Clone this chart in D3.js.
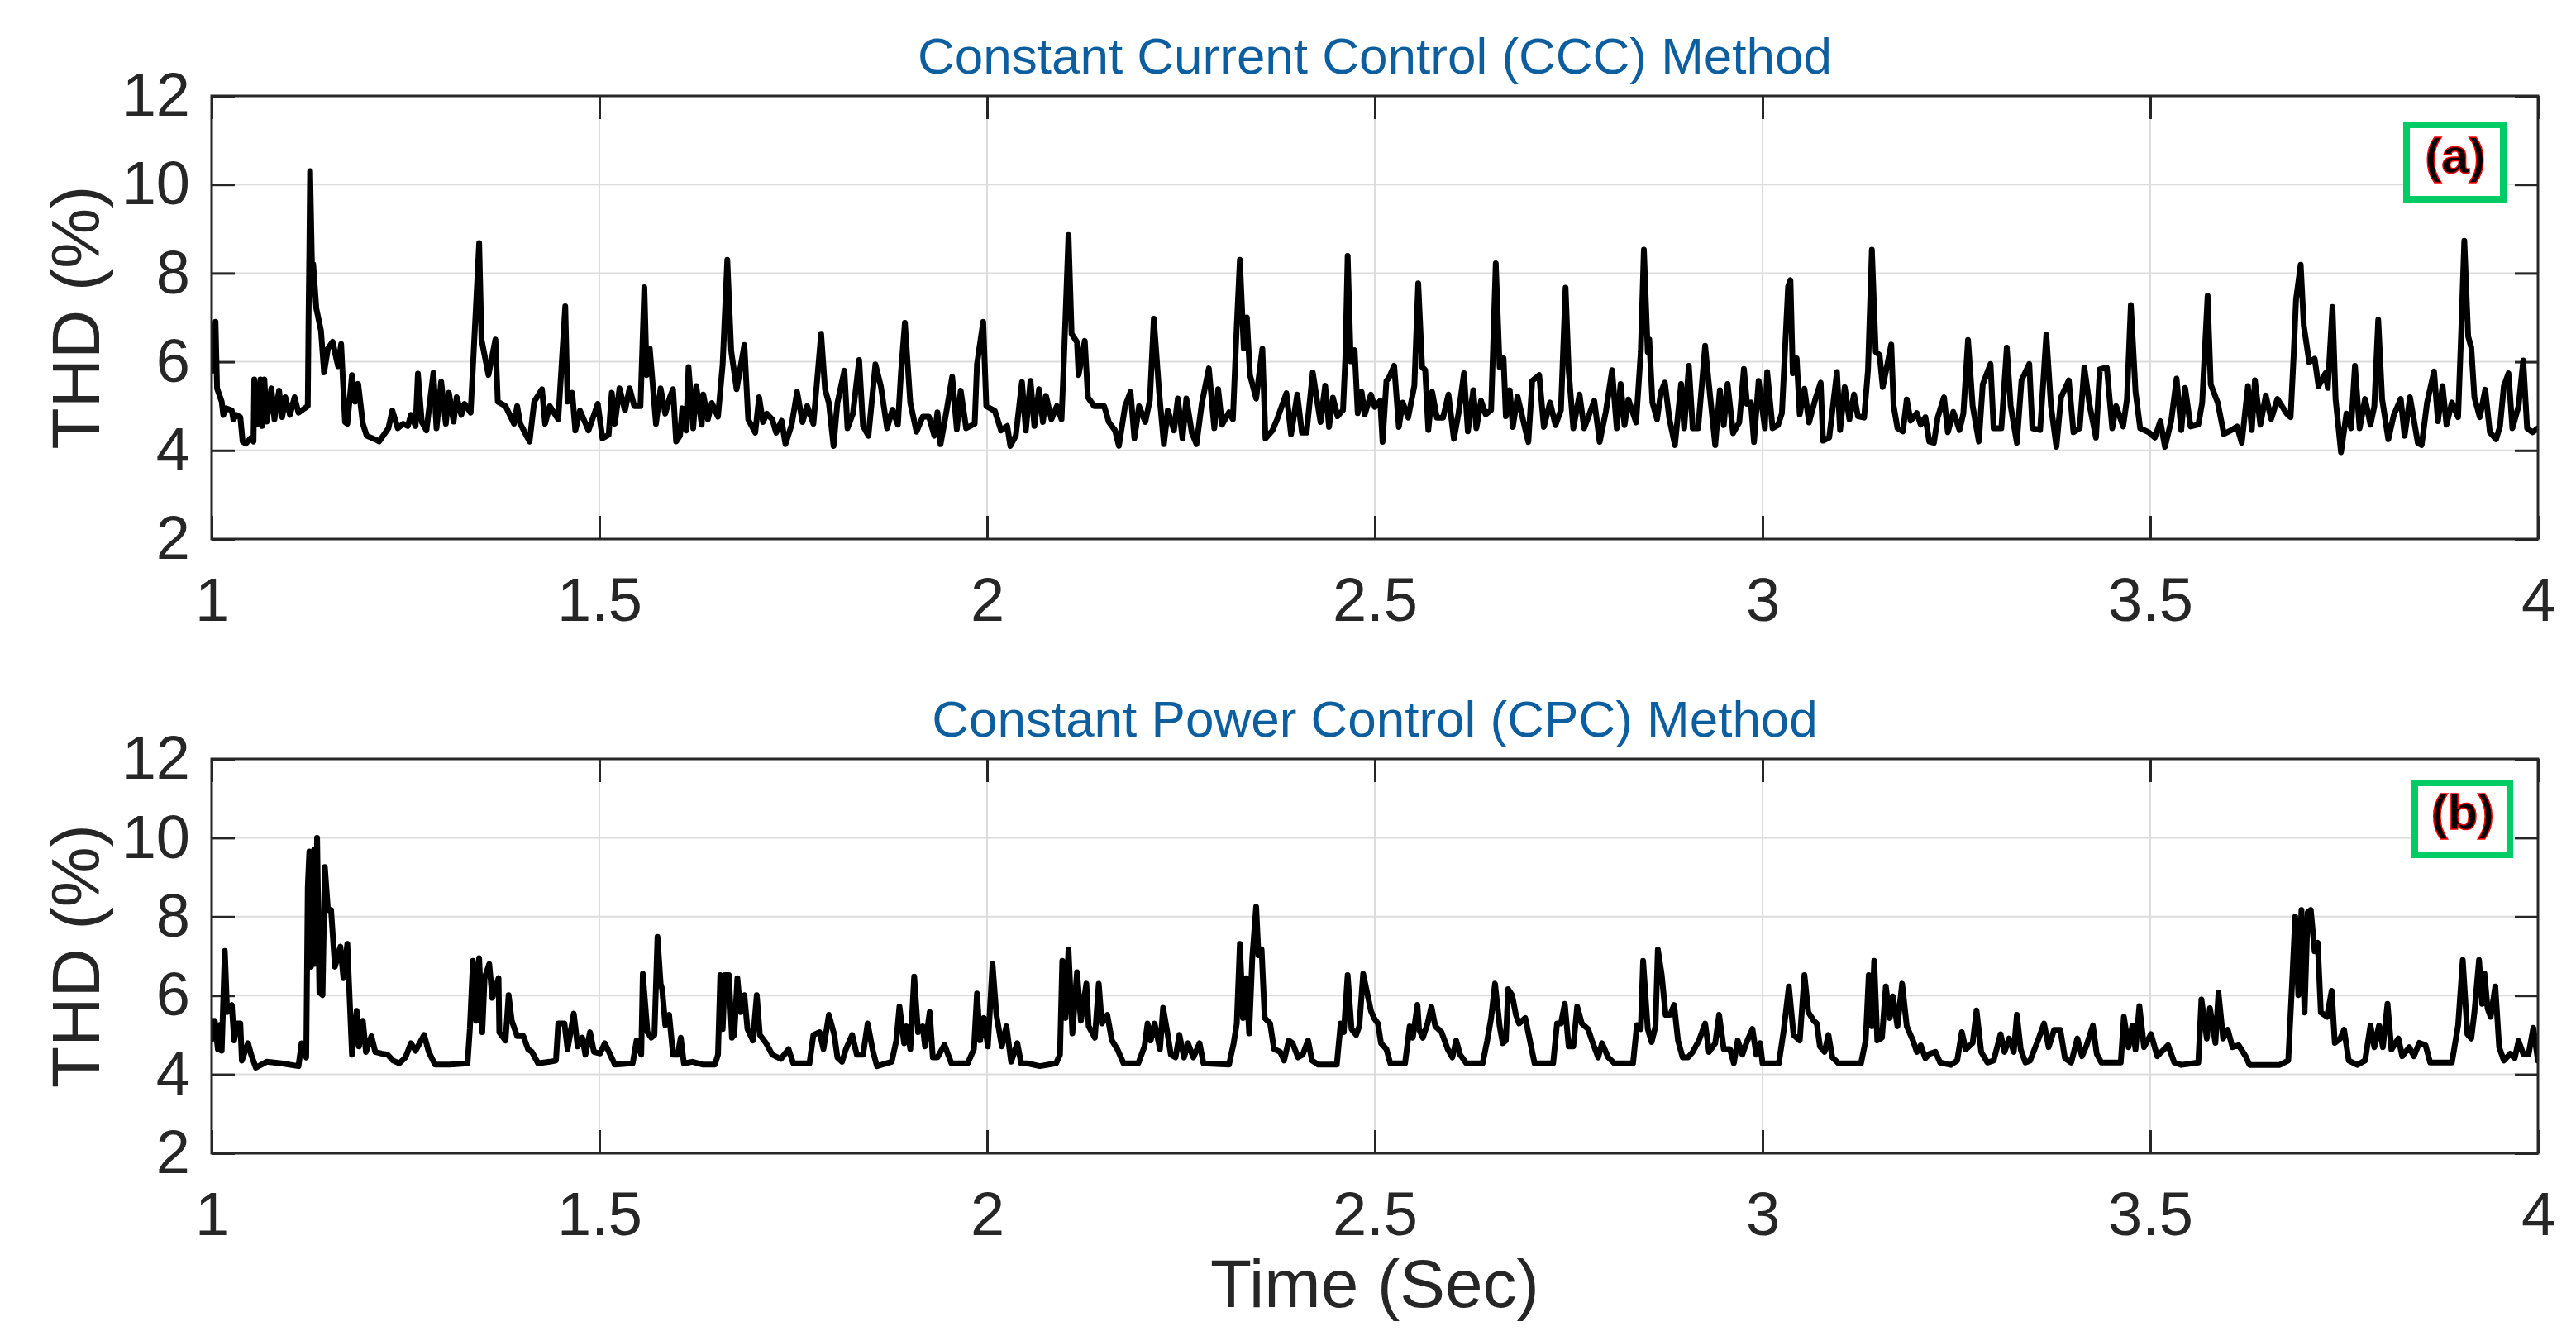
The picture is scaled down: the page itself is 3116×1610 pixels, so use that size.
<!DOCTYPE html>
<html>
<head>
<meta charset="utf-8">
<script src="https://cdn.jsdelivr.net/npm/d3@7"></script>
<style>
    body { margin: 0; background: #ffffff; }
    text { font-family: "Liberation Sans", Arial, Helvetica, sans-serif; }
</style>
</head>
<body>
<div id="divChart"></div>
<script>
// tick values and texts
var timeTicks = [1, 1.5, 2, 2.5, 3, 3.5, 4];
var thdTicks = [2, 4, 6, 8, 10, 12];
var panelTitles = ["Constant Current Control (CCC) Method", "Constant Power Control (CPC) Method"];
var panelTags = ["(a)", "(b)"];
var xLabel = "Time (Sec)";
var yLabel = "THD (%)";

// [time (s), THD (%)] - CCC method
var cccData = [
    [1.000,6.2],[1.002,5.8],[1.005,6.9],[1.007,5.4],[1.013,5.1],[1.015,4.8],[1.019,4.95],[1.026,4.9],
    [1.028,4.7],[1.032,4.8],[1.037,4.75],[1.040,4.2],[1.044,4.15],[1.050,4.27],[1.054,4.2],[1.055,5.6],
    [1.059,4.6],[1.063,5.6],[1.065,4.55],[1.068,5.6],[1.071,4.65],[1.077,5.4],[1.081,4.7],[1.087,5.35],
    [1.091,4.75],[1.095,5.2],[1.101,4.8],[1.107,5.2],[1.112,4.85],[1.120,4.95],[1.124,5.0],[1.125,7.0],
    [1.126,8.5],[1.127,10.3],[1.129,8.5],[1.130,7.7],[1.131,8.2],[1.135,7.2],[1.141,6.7],[1.145,5.76],
    [1.150,6.3],[1.156,6.45],[1.163,5.9],[1.167,6.4],[1.172,4.64],[1.175,4.6],[1.181,5.7],[1.185,5.1],
    [1.189,5.5],[1.195,4.6],[1.200,4.33],[1.212,4.24],[1.216,4.2],[1.228,4.5],[1.233,4.9],[1.240,4.5],
    [1.247,4.6],[1.253,4.55],[1.257,4.8],[1.263,4.55],[1.266,5.73],[1.271,4.64],[1.277,4.45],[1.286,5.75],
    [1.290,4.5],[1.296,5.55],[1.302,4.6],[1.306,5.3],[1.312,4.65],[1.316,5.2],[1.322,4.8],[1.326,5.05],
    [1.334,4.85],[1.338,6.25],[1.345,8.68],[1.348,6.5],[1.357,5.7],[1.366,6.5],[1.369,5.1],[1.379,5.0],
    [1.390,4.6],[1.394,5.0],[1.398,4.6],[1.410,4.2],[1.416,5.1],[1.426,5.38],[1.430,4.6],[1.436,5.0],
    [1.447,4.7],[1.456,7.25],[1.459,5.1],[1.465,5.3],[1.469,4.45],[1.475,4.9],[1.486,4.45],[1.498,5.05],
    [1.504,4.27],[1.512,4.35],[1.516,5.3],[1.520,4.6],[1.526,5.4],[1.533,4.9],[1.539,5.4],[1.545,5.0],
    [1.553,5.0],[1.558,7.68],[1.561,5.7],[1.565,6.3],[1.573,4.6],[1.579,5.4],
    [1.585,4.83],[1.591,5.2],[1.595,5.38],[1.599,4.2],[1.604,4.33],[1.607,4.95],[1.612,4.45],[1.615,5.88],
    [1.621,4.5],[1.625,5.45],[1.632,4.58],[1.634,5.26],[1.640,4.7],[1.645,5.07],[1.653,4.76],[1.659,5.94],
    [1.665,8.3],[1.670,6.25],[1.677,5.38],[1.687,6.38],[1.692,4.7],[1.701,4.4],[1.706,5.2],[1.711,4.64],
    [1.716,4.83],[1.723,4.7],[1.728,4.4],[1.735,4.67],[1.740,4.14],[1.748,4.58],[1.755,5.32],[1.762,4.64],
    [1.768,5.0],[1.776,4.6],[1.786,6.63],[1.791,5.38],[1.796,5.07],[1.802,4.1],[1.807,5.07],[1.816,5.8],
    [1.820,4.5],[1.827,4.83],[1.835,6.04],[1.840,4.55],[1.847,4.33],[1.856,5.94],[1.863,5.45],[1.871,4.5],
    [1.878,4.92],[1.885,4.58],[1.889,5.76],[1.894,6.88],[1.901,5.07],[1.909,4.42],[1.917,4.76],[1.925,4.76],
    [1.932,4.33],[1.936,4.86],[1.940,4.14],[1.948,4.92],[1.955,5.66],[1.961,4.48],[1.966,5.35],[1.973,4.5],
    [1.984,4.6],[1.987,5.94],[1.995,6.9],[1.999,5.0],[2.010,4.89],[2.018,4.45],[2.026,4.55],[2.030,4.1],
    [2.037,4.33],[2.045,5.54],[2.050,4.45],[2.056,5.57],[2.061,4.55],[2.067,5.38],[2.072,4.64],[2.076,5.23],
    [2.083,4.7],[2.090,5.0],[2.096,4.7],[2.099,6.0],[2.105,8.86],[2.109,6.63],[2.116,6.44],[2.118,5.7],
    [2.126,6.47],[2.130,5.2],[2.138,5.0],[2.151,5.0],[2.157,4.64],[2.165,4.45],[2.170,4.1],[2.178,5.0],
    [2.185,5.32],[2.190,4.27],[2.196,5.0],[2.204,4.64],[2.210,5.14],[2.215,6.97],[2.222,5.29],[2.228,4.14],
    [2.233,4.9],[2.241,4.45],[2.246,5.17],[2.252,4.27],[2.257,5.17],[2.264,4.4],[2.270,4.14],[2.277,5.07],
    [2.286,5.85],[2.293,4.5],[2.298,5.38],[2.303,4.58],[2.312,4.86],[2.317,4.7],[2.322,6.81],[2.326,8.3],
    [2.331,6.3],[2.335,7.0],[2.339,5.7],[2.347,5.17],[2.355,6.29],[2.359,4.27],[2.368,4.45],[2.374,4.7],
    [2.386,5.29],[2.392,4.36],[2.400,5.26],[2.406,4.4],[2.412,4.4],[2.420,5.76],[2.426,5.07],[2.430,4.64],
    [2.436,5.46],[2.441,4.53],[2.446,5.19],[2.452,4.77],[2.459,4.91],[2.462,6.08],[2.465,8.39],[2.469,6.01],
    [2.474,6.26],[2.478,4.84],[2.483,5.32],[2.487,4.81],[2.495,5.26],[2.500,4.98],[2.507,5.12],[2.510,4.19],
    [2.515,5.57],[2.518,5.63],[2.525,5.91],[2.531,4.53],[2.536,5.08],[2.543,4.74],[2.551,5.46],[2.556,7.77],
    [2.561,5.88],[2.565,5.81],[2.569,4.46],[2.574,5.32],[2.580,4.74],[2.588,4.74],[2.595,5.26],[2.602,4.26],
    [2.608,4.84],[2.615,5.74],[2.620,4.43],[2.627,5.36],[2.631,4.5],[2.637,5.12],[2.643,4.81],[2.650,4.91],
    [2.656,8.22],[2.661,5.88],[2.666,6.08],[2.669,4.77],[2.674,5.36],[2.678,4.53],[2.684,5.22],[2.691,4.7],
    [2.698,4.19],[2.703,5.57],[2.712,5.7],[2.718,4.53],[2.726,5.08],[2.733,4.57],[2.740,4.91],[2.746,7.67],
    [2.750,5.81],[2.756,4.5],[2.764,5.26],[2.770,4.5],[2.783,5.12],[2.790,4.19],[2.798,4.88],[2.806,5.81],
    [2.812,4.5],[2.817,5.5],[2.822,4.57],[2.827,5.15],[2.837,4.63],[2.843,6.22],[2.847,8.53],[2.852,6.22],
    [2.854,6.5],[2.858,5.08],[2.864,4.7],[2.869,5.32],[2.874,5.53],[2.880,4.7],[2.887,4.12],[2.895,5.5],
    [2.899,4.5],[2.905,5.91],[2.910,4.5],[2.917,4.5],[2.926,6.36],[2.930,5.63],[2.939,4.12],[2.945,5.36],
    [2.950,4.57],[2.955,5.5],[2.962,4.39],[2.970,4.63],[2.976,5.84],[2.980,5.05],[2.985,5.08],[2.989,4.19],
    [2.995,5.57],[3.003,4.5],[3.006,5.77],[3.013,4.5],[3.020,4.57],[3.025,4.84],[3.033,7.7],[3.036,7.84],
    [3.039,5.74],[3.044,6.08],[3.048,4.81],[3.054,5.39],[3.060,4.63],[3.068,5.15],[3.075,5.53],[3.078,4.22],
    [3.086,4.29],[3.096,5.77],[3.100,4.46],[3.106,5.43],[3.112,4.7],[3.118,5.26],[3.123,4.77],[3.131,4.74],
    [3.136,5.81],[3.141,8.53],[3.146,6.22],[3.151,6.15],[3.155,5.43],[3.161,5.94],[3.166,6.39],[3.169,5.01],
    [3.174,4.5],[3.181,4.43],[3.186,5.15],[3.191,4.67],[3.199,4.84],
    [3.204,4.58],[3.210,4.75],[3.215,4.2],[3.221,4.17],[3.226,4.75],[3.234,5.2],[3.239,4.41],[3.246,4.87],
    [3.254,4.46],[3.259,4.83],[3.265,6.49],[3.271,5.0],[3.279,4.2],[3.284,5.49],[3.294,5.95],[3.298,4.5],
    [3.308,4.5],[3.315,6.32],[3.320,5.0],[3.328,4.17],[3.334,5.58],[3.344,5.95],[3.348,4.5],[3.358,4.46],
    [3.366,6.61],[3.372,5.0],[3.379,4.08],[3.385,5.2],[3.395,5.58],[3.401,4.41],[3.409,4.5],[3.415,5.87],
    [3.422,5.0],[3.430,4.29],[3.435,5.83],[3.444,5.87],[3.451,4.5],[3.456,5.0],[3.465,4.54],[3.470,5.16],
    [3.475,7.28],[3.481,5.33],[3.487,4.5],[3.498,4.41],[3.506,4.29],[3.513,4.66],[3.519,4.08],[3.527,4.66],
    [3.534,5.62],[3.540,4.46],[3.545,5.41],[3.552,4.54],[3.562,4.58],[3.567,5.08],[3.574,7.49],[3.578,5.49],
    [3.587,5.08],[3.595,4.37],[3.605,4.46],[3.612,4.54],[3.618,4.17],[3.626,5.45],[3.631,4.46],[3.635,5.58],
    [3.642,4.58],[3.649,5.24],[3.656,4.71],[3.664,5.16],[3.676,4.83],[3.681,4.75],[3.685,6.16],[3.688,7.4],
    [3.694,8.19],[3.698,6.82],[3.705,5.99],[3.712,6.07],[3.717,5.45],[3.726,5.74],[3.729,5.41],[3.735,7.24],
    [3.739,5.16],[3.746,3.96],[3.753,4.83],[3.759,4.5],[3.764,5.91],[3.770,4.5],[3.777,5.16],[3.784,4.58],
    [3.789,5.0],[3.794,6.95],[3.799,5.16],[3.807,4.25],[3.814,4.79],[3.823,5.16],[3.828,4.33],[3.835,5.2],
    [3.845,4.17],[3.850,4.12],[3.857,5.08],[3.866,5.78],[3.871,4.66],[3.877,5.45],[3.882,4.58],[3.889,5.08],
    [3.897,4.75],[3.901,6.66],[3.905,8.73],[3.910,6.57],[3.914,6.32],[3.918,5.2],[3.925,4.75],[3.932,5.37],
    [3.938,4.41],[3.946,4.25],[3.951,4.54],[3.956,5.45],[3.962,5.74],[3.967,4.5],[3.975,5.0],[3.981,6.03],
    [3.986,4.5],[3.993,4.41],[4.000,4.5]
];

// [time (s), THD (%)] - CPC method
var cpcData = [
    [1.000,5.36],[1.001,4.9],[1.004,5.36],[1.008,4.64],[1.010,5.25],[1.013,4.6],[1.017,7.13],[1.020,5.58],
    [1.026,5.76],[1.029,4.86],[1.033,5.29],[1.037,5.29],[1.039,4.35],[1.044,4.64],[1.047,4.79],[1.051,4.5],
    [1.057,4.17],[1.071,4.32],[1.090,4.28],[1.112,4.21],[1.116,4.79],[1.122,4.43],[1.124,8.75],[1.126,9.65],
    [1.128,6.73],[1.132,9.69],[1.133,6.8],[1.136,10.0],[1.139,6.08],[1.143,6.01],[1.146,9.26],[1.150,8.17],
    [1.154,8.17],[1.159,6.73],[1.166,7.24],[1.170,6.44],[1.175,7.31],[1.181,4.5],[1.187,5.61],[1.190,4.71],
    [1.195,5.36],[1.199,4.57],[1.206,4.97],[1.211,4.57],[1.219,4.53],[1.227,4.5],[1.234,4.35],[1.242,4.28],
    [1.250,4.43],[1.257,4.79],[1.263,4.6],[1.274,5.0],[1.280,4.57],[1.288,4.25],[1.307,4.25],[1.330,4.28],
    [1.333,5.15],[1.337,6.88],[1.341,5.36],[1.345,6.95],[1.349,5.07],[1.352,6.44],[1.358,6.8],[1.362,5.94],
    [1.370,6.44],[1.371,5.07],[1.379,4.86],[1.383,6.01],[1.387,5.36],[1.394,4.97],[1.402,4.97],[1.408,4.64],
    [1.413,4.57],[1.421,4.28],[1.436,4.32],[1.444,4.35],[1.447,5.29],[1.455,5.29],[1.459,4.64],[1.467,5.54],
    [1.472,4.71],[1.478,4.93],[1.482,4.5],[1.488,5.07],[1.493,4.57],[1.501,4.53],[1.507,4.79],[1.514,4.5],
    [1.520,4.25],[1.543,4.28],[1.548,4.86],[1.554,4.5],[1.556,6.55],[1.562,5.07],[1.567,4.93],[1.571,5.0],
    [1.575,7.49],[1.579,6.3],
    [1.581,6.16],[1.585,5.25],[1.590,5.51],[1.595,4.5],[1.601,4.5],[1.605,4.93],[1.609,4.28],[1.620,4.32],
    [1.633,4.25],[1.649,4.25],[1.653,4.5],[1.656,6.52],[1.659,5.15],[1.662,6.52],[1.667,6.52],[1.671,4.93],
    [1.674,5.0],[1.678,6.44],[1.682,5.58],[1.687,6.01],[1.691,5.15],[1.698,4.86],[1.703,6.01],[1.707,5.0],
    [1.715,4.79],[1.723,4.5],[1.734,4.39],[1.744,4.64],[1.750,4.28],[1.771,4.28],[1.776,5.0],[1.784,5.07],
    [1.789,4.64],[1.796,5.51],[1.803,5.0],[1.807,4.43],[1.813,4.32],[1.818,4.64],[1.826,5.0],[1.832,4.5],
    [1.840,4.5],[1.846,5.29],[1.853,4.57],[1.858,4.21],[1.877,4.32],[1.883,4.86],[1.887,5.72],[1.893,4.79],
    [1.896,5.22],[1.901,4.64],[1.906,6.48],[1.911,5.07],[1.917,5.22],[1.920,4.71],[1.926,5.58],[1.930,4.43],
    [1.936,4.43],[1.945,4.75],[1.954,4.28],[1.975,4.28],[1.983,4.64],[1.987,6.05],[1.991,4.86],[1.996,5.43],
    [2.001,4.71],[2.007,6.8],[2.012,5.51],[2.019,4.71],[2.025,5.22],[2.031,4.32],[2.039,4.79],[2.044,4.28],
    [2.052,4.28],[2.068,4.21],[2.089,4.28],[2.094,4.5],[2.097,6.88],[2.101,5.43],[2.105,7.17],[2.110,5.04],
    [2.116,6.59],[2.121,5.36],[2.128,6.3],[2.131,5.22],[2.139,4.93],[2.144,6.3],[2.148,5.29],[2.155,5.51],
    [2.161,4.86],[2.168,4.64],[2.176,4.28],[2.195,4.28],[2.203,4.71],[2.207,5.29],[2.211,4.86],[2.216,5.29],
    [2.223,4.64],[2.227,5.69],[2.233,5.0],[2.237,4.5],[2.243,4.43],[2.248,5.0],[2.254,4.43],[2.259,4.79],
    [2.266,4.43],[2.274,4.79],[2.279,4.28],[2.312,4.25],[2.318,4.79],[2.322,5.29],[2.326,7.31],[2.330,5.43],
    [2.334,6.44],[2.338,5.04],[2.342,6.95],[2.347,8.25],[2.350,7.02],[2.354,7.17],[2.358,5.43],[2.365,5.29],
    [2.370,4.64],[2.378,4.57],[2.383,4.35],[2.389,4.86],
    [2.394,4.79],[2.401,4.43],[2.407,4.5],[2.414,4.86],[2.419,4.35],[2.427,4.25],[2.451,4.25],[2.456,5.29],
    [2.460,5.07],[2.465,6.52],[2.470,5.15],[2.476,5.0],[2.480,5.22],[2.485,6.55],[2.490,6.08],[2.495,5.61],
    [2.499,5.43],[2.504,5.29],[2.508,4.79],[2.515,4.64],[2.520,4.28],[2.539,4.28],[2.545,5.22],[2.549,4.93],
    [2.555,5.76],[2.557,5.15],[2.562,4.93],[2.568,5.29],[2.573,5.72],[2.578,5.22],[2.586,5.07],[2.594,4.64],
    [2.600,4.43],[2.605,4.86],[2.610,4.5],[2.618,4.28],[2.639,4.28],[2.645,4.86],[2.650,5.43],[2.655,6.3],
    [2.661,5.22],[2.665,4.79],[2.669,4.86],[2.672,6.16],[2.677,6.01],[2.682,5.51],[2.686,5.29],[2.694,5.43],
    [2.700,4.86],[2.706,4.28],[2.730,4.28],[2.735,5.29],[2.740,5.29],[2.745,5.79],[2.750,4.71],[2.756,4.71],
    [2.761,5.72],[2.767,5.29],[2.775,5.15],[2.780,4.86],[2.788,4.43],[2.793,4.79],[2.801,4.43],[2.809,4.28],
    [2.833,4.28],[2.838,5.25],[2.843,5.15],[2.846,6.88],[2.852,5.15],[2.857,4.82],[2.862,5.22],[2.865,7.17],
    [2.870,6.52],[2.875,5.51],[2.881,5.51],[2.886,5.76],[2.891,4.86],[2.897,4.43],[2.904,4.43],[2.910,4.57],
    [2.918,4.86],[2.926,5.29],[2.931,4.57],[2.939,4.79],[2.944,5.51],[2.950,4.64],[2.958,4.64],[2.963,4.28],
    [2.968,4.86],[2.974,4.5],[2.979,4.79],[2.987,5.15],[2.992,4.5],[2.997,4.79],[3.000,4.28],[3.021,4.28],
    [3.027,5.07],[3.034,6.23],[3.040,5.0],[3.048,4.86],[3.054,6.52],[3.059,5.58],[3.066,5.36],[3.070,5.29],
    [3.074,4.71],[3.080,4.57],[3.085,5.0],[3.090,4.43],[3.098,4.28],[3.127,4.28],[3.133,4.86],[3.137,6.52],
    [3.141,5.22],[3.144,6.88],[3.148,4.86],[3.154,4.93],[3.159,6.23],[3.164,5.43],[3.168,5.98],[3.174,5.22],
    [3.180,6.3],[3.186,5.22],[3.194,4.86],[3.199,4.57],
    [3.204,4.74],[3.210,4.41],[3.215,4.52],[3.223,4.57],[3.229,4.3],[3.243,4.24],[3.251,4.35],[3.257,5.07],
    [3.262,4.63],[3.271,4.8],[3.276,5.62],[3.282,4.57],[3.290,4.3],[3.298,4.35],[3.307,5.02],[3.312,4.57],
    [3.318,4.91],[3.324,4.57],[3.328,5.51],[3.333,4.63],[3.339,4.3],[3.345,4.35],[3.355,4.85],[3.363,5.29],
    [3.369,4.69],[3.376,5.13],[3.384,5.13],[3.390,4.41],[3.398,4.3],[3.406,4.91],[3.412,4.46],[3.418,4.74],
    [3.426,5.24],[3.431,4.52],[3.437,4.3],[3.462,4.3],[3.466,5.46],[3.472,4.69],[3.477,5.24],[3.481,4.63],
    [3.486,5.73],[3.492,4.69],[3.501,5.02],[3.509,4.46],[3.523,4.74],[3.531,4.3],[3.540,4.24],[3.562,4.3],
    [3.566,5.9],[3.573,4.91],[3.577,5.68],[3.584,4.8],[3.588,6.07],[3.594,4.91],[3.600,5.13],[3.606,4.69],
    [3.614,4.74],[3.623,4.46],[3.628,4.24],[3.667,4.24],[3.678,4.35],[3.683,6.34],[3.687,8.0],[3.691,6.01],
    [3.695,8.17],[3.699,5.57],[3.703,8.11],[3.707,8.17],[3.712,7.12],[3.716,7.34],[3.720,5.57],[3.728,5.46],
    [3.734,6.12],[3.738,4.8],[3.745,4.91],[3.750,5.13],[3.756,4.35],[3.767,4.24],[3.777,4.35],[3.784,5.24],
    [3.789,4.69],[3.795,5.24],[3.800,4.69],[3.806,5.79],[3.811,4.63],[3.820,4.91],[3.825,4.46],[3.834,4.69],
    [3.840,4.46],[3.847,4.8],[3.855,4.74],[3.861,4.3],[3.889,4.3],[3.897,5.24],[3.903,6.9],[3.909,5.02],
    [3.914,4.91],[3.918,5.57],[3.924,6.9],[3.928,5.79],[3.931,6.56],[3.935,5.68],[3.939,5.46],[3.945,6.23],
    [3.950,4.69],[3.956,4.35],[3.964,4.52],[3.970,4.41],[3.975,4.85],[3.981,4.52],[3.988,4.52],[3.994,5.18],
    [4.000,4.35]
];

function init()
{
    var width = 3116;
    var height = 1610;
    var plotLeft = 256;
    var plotRight = 3070;
    var tickLen = 28;
    var axisColor = "#262626";

    var svg = d3.select("#divChart").append("svg")
        .attr("width", width)
        .attr("height", height)
        .style("display", "block");

    // x scale is the same for both panels
    var scaleX = d3.scaleLinear()
        .domain([1, 4])
        .range([plotLeft, plotRight]);

    var panels = [
        {top: 116, bottom: 652, data: cccData, title: panelTitles[0], tag: panelTags[0],
         box: {x: 2911, y: 151, w: 117, h: 90}, tagX: 2970, tagY: 209},
        {top: 918, bottom: 1395, data: cpcData, title: panelTitles[1], tag: panelTags[1],
         box: {x: 2921, y: 947, w: 115, h: 87}, tagX: 2979, tagY: 1003}
    ];

    panels.forEach(function(p, i)
    {
        var scaleY = d3.scaleLinear()
            .domain([2, 12])
            .range([p.bottom, p.top]);

        var g = svg.append("g").attr("class", "panel-" + i);

        // grid
        g.append("g").selectAll("line.vgrid")
            .data(timeTicks.slice(1, -1))
            .enter().append("line")
            .attr("x1", function(d){ return scaleX(d); })
            .attr("x2", function(d){ return scaleX(d); })
            .attr("y1", p.top)
            .attr("y2", p.bottom)
            .style("stroke", "#dcdcdc")
            .style("stroke-width", 2);

        g.append("g").selectAll("line.hgrid")
            .data(thdTicks.slice(1, -1))
            .enter().append("line")
            .attr("x1", plotLeft)
            .attr("x2", plotRight)
            .attr("y1", function(d){ return scaleY(d); })
            .attr("y2", function(d){ return scaleY(d); })
            .style("stroke", "#dcdcdc")
            .style("stroke-width", 2);

        // axes, ticks point inward like matlab
        var xAxis = d3.axisBottom(scaleX)
            .tickValues(timeTicks)
            .tickFormat(function(d){ return d; })
            .tickSizeInner(-tickLen)
            .tickSizeOuter(0)
            .tickPadding(46);
        var yAxis = d3.axisLeft(scaleY)
            .tickValues(thdTicks)
            .tickSizeInner(-tickLen)
            .tickSizeOuter(0)
            .tickPadding(26);

        var gx = g.append("g")
            .attr("transform", "translate(0," + p.bottom + ")")
            .call(xAxis);
        var gy = g.append("g")
            .attr("transform", "translate(" + plotLeft + ",0)")
            .call(yAxis);
        var gxTop = g.append("g")
            .attr("transform", "translate(0," + p.top + ")")
            .call(d3.axisTop(scaleX).tickValues(timeTicks).tickSizeInner(-tickLen).tickSizeOuter(0).tickFormat(""));
        var gyRight = g.append("g")
            .attr("transform", "translate(" + plotRight + ",0)")
            .call(d3.axisRight(scaleY).tickValues(thdTicks).tickSizeInner(-tickLen).tickSizeOuter(0).tickFormat(""));

        [gx, gy, gxTop, gyRight].forEach(function(a)
        {
            a.attr("color", axisColor).attr("font-size", 74).attr("font-family", null);
            a.select(".domain").remove();
            a.selectAll(".tick line").style("stroke-width", 3);
        });

        // the signal
        var clipId = "clip" + i;
        g.append("clipPath").attr("id", clipId)
            .append("rect")
            .attr("x", plotLeft).attr("y", p.top)
            .attr("width", plotRight - plotLeft).attr("height", p.bottom - p.top);

        var line = d3.line()
            .x(function(d){ return scaleX(d[0]); })
            .y(function(d){ return scaleY(d[1]); });

        g.append("path")
            .attr("d", line(p.data))
            .attr("clip-path", "url(#" + clipId + ")")
            .style("fill", "none")
            .style("stroke", "#000000")
            .style("stroke-width", 7)
            .style("stroke-linejoin", "round")
            .style("stroke-linecap", "round");

        // box around axes
        g.append("rect")
            .attr("x", plotLeft)
            .attr("y", p.top)
            .attr("width", plotRight - plotLeft)
            .attr("height", p.bottom - p.top)
            .style("fill", "none")
            .style("stroke", axisColor)
            .style("stroke-width", 3);

        // title
        g.append("text")
            .attr("x", (plotLeft + plotRight) / 2)
            .attr("y", p.top - 27)
            .attr("text-anchor", "middle")
            .attr("font-size", 62)
            .style("fill", "#0c5e9e")
            .text(p.title);

        // y label
        g.append("text")
            .attr("transform", "translate(120," + (p.top + p.bottom) / 2 + ") rotate(-90)")
            .attr("text-anchor", "middle")
            .attr("font-size", 82)
            .style("fill", axisColor)
            .text(yLabel);

        // (a) / (b) tag in green box
        g.append("rect")
            .attr("x", p.box.x)
            .attr("y", p.box.y)
            .attr("width", p.box.w)
            .attr("height", p.box.h)
            .style("fill", "#ffffff")
            .style("stroke", "#00cc66")
            .style("stroke-width", 8);

        g.append("text")
            .attr("x", p.tagX)
            .attr("y", p.tagY)
            .attr("text-anchor", "middle")
            .attr("font-size", 60)
            .attr("font-weight", "bold")
            .style("fill", "#000000")
            .style("stroke", "#ff0000")
            .style("stroke-width", 1.5)
            .text(p.tag);
    });

    // x label only under the lower panel
    svg.append("text")
        .attr("x", (plotLeft + plotRight) / 2)
        .attr("y", 1581)
        .attr("text-anchor", "middle")
        .attr("font-size", 82)
        .style("fill", axisColor)
        .text(xLabel);
}

window.onload = init;
</script>
</body>
</html>
